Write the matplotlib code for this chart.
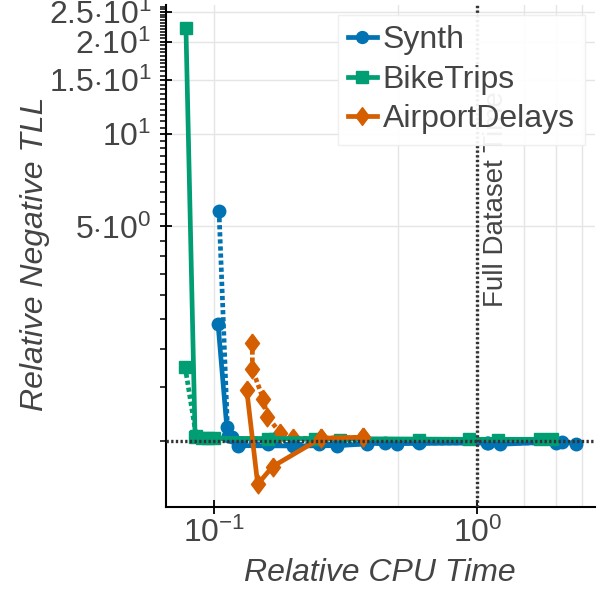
import matplotlib
matplotlib.use("Agg")
import matplotlib.pyplot as plt
from matplotlib.ticker import FixedLocator, NullFormatter

plt.rcParams['font.family'] = ['Liberation Sans', 'DejaVu Sans']
plt.rcParams['mathtext.fontset'] = 'custom'
plt.rcParams['mathtext.rm'] = 'Liberation Sans'
plt.rcParams['mathtext.it'] = 'Liberation Sans:italic'
plt.rcParams['mathtext.bf'] = 'Liberation Sans:bold'

# ---------------- data ----------------
series_names = ["Synth", "BikeTrips", "AirportDelays"]

synth_time_a = [0.1033, 0.1115, 0.1168, 0.1234, 0.1997, 0.292, 0.446, 0.494, 1.086, 1.22, 2.09, 2.37]
synth_tll_a = [2.405, 1.113, 1.03, 0.965, 0.963, 0.965, 0.985, 0.98, 0.985, 0.975, 0.995, 0.978]
synth_time_b = [0.1042, 0.1125, 0.125, 0.16, 0.25, 0.38, 0.6, 1.1, 2.0]
synth_tll_b = [5.616, 1.04, 0.985, 0.975, 0.975, 0.98, 0.985, 0.985, 0.985]

bike_time_a = [0.0780, 0.0845, 0.0894, 0.0948, 0.160, 0.241, 0.93, 1.73, 1.92]
bike_tll_a = [22.17, 1.03, 1.025, 1.02, 1.018, 1.018, 1.012, 1.012, 1.012]
bike_time_b = [0.0774, 0.0853, 0.100, 0.170, 0.300, 0.600, 1.20]
bike_tll_b = [1.746, 1.04, 1.02, 1.015, 1.01, 1.01, 1.01]

air_time_a = [0.1328, 0.1462, 0.1667, 0.2538, 0.3685]
air_tll_a = [1.466, 0.723, 0.825, 1.02, 1.028]
air_time_b = [0.1395, 0.1395, 0.1536, 0.159, 0.1778, 0.1987, 0.2538, 0.3685]
air_tll_b = [2.08, 1.713, 1.367, 1.20, 1.064, 1.02, 1.02, 1.028]

y_major = [5, 10, 15, 20, 25]
y_major_labels = [r"$5{\cdot}10^{0}$", r"$10^{1}$", r"$1.5{\cdot}10^{1}$",
                  r"$2{\cdot}10^{1}$", r"$2.5{\cdot}10^{1}$"]
y_minor = [1, 1.5, 2, 2.5, 3, 3.5, 4, 4.5, 5.5, 6, 6.5, 7, 7.5, 8, 8.5, 9, 9.5,
           10.5, 11, 11.5, 12, 12.5, 13, 13.5, 14, 14.5, 15.5, 16, 16.5, 17, 17.5,
           18, 18.5, 19, 19.5, 20.5, 21, 21.5, 22, 22.5, 23, 23.5, 24, 24.5, 25.5, 26]
x_major = [0.1, 1.0]
x_major_labels = [r"$10^{-1}$", r"$10^{0}$"]
x_minor_grid = [0.5, 1.5, 2.0, 2.5]

# ---------------- style ----------------
colors = {"Synth": "#0173B2", "BikeTrips": "#029E73", "AirportDelays": "#D55E00"}
diamond = [(0, 1), (0.75, 0), (0, -1), (-0.75, 0), (0, 1)]
text_color = "#444444"

fig = plt.figure(figsize=(6, 6), dpi=100)
ax = fig.add_axes([165.7 / 600, 93 / 600, (595 - 165.7) / 600, (507 - 5) / 600])
ax.set_xscale("log")
ax.set_yscale("log")
ax.set_xlim(0.06533, 2.802)
ax.set_ylim(0.609, 26.35)

lw = 3.4
dots = (0, (0.9, 0.6))
ms_c, ms_s, ms_d = 9, 8.5, 13.5

# dotted variants (no legend)
ax.plot(bike_time_b, bike_tll_b, color=colors["BikeTrips"], lw=lw, ls=dots,
        marker="s", ms=ms_s, zorder=3)
ax.plot(synth_time_b, synth_tll_b, color=colors["Synth"], lw=lw, ls=dots,
        marker="o", ms=ms_c, zorder=3)
ax.plot(air_time_b, air_tll_b, color=colors["AirportDelays"], lw=lw, ls=dots,
        marker=diamond, ms=ms_d, zorder=3)

# solid variants
h1, = ax.plot(synth_time_a, synth_tll_a, color=colors["Synth"], lw=lw,
              marker="o", ms=ms_c, zorder=4, label=series_names[0])
h2, = ax.plot(bike_time_a, bike_tll_a, color=colors["BikeTrips"], lw=lw,
              marker="s", ms=ms_s, zorder=4, label=series_names[1])
h3, = ax.plot(air_time_a, air_tll_a, color=colors["AirportDelays"], lw=lw,
              marker=diamond, ms=ms_d, zorder=4, label=series_names[2])

# reference lines
ref_ls = (0, (0.7, 0.7))
ax.axhline(1.0, color="#333333", lw=2.4, ls=ref_ls, zorder=6)
ax.axvline(1.0, color="#333333", lw=2.4, ls=ref_ls, zorder=6)
ax.text(1.051, 2.73, "Full Dataset Time", rotation=90, ha="left", va="bottom",
        fontsize=20, color=text_color, zorder=6)

# ticks
ax.yaxis.set_major_locator(FixedLocator(y_major))
ax.yaxis.set_ticklabels(y_major_labels)
ax.yaxis.set_minor_locator(FixedLocator(y_minor))
ax.yaxis.set_minor_formatter(NullFormatter())
ax.xaxis.set_major_locator(FixedLocator(x_major))
ax.xaxis.set_ticklabels(x_major_labels)
ax.xaxis.set_minor_locator(FixedLocator(x_minor_grid))
ax.xaxis.set_minor_formatter(NullFormatter())

ax.tick_params(axis="y", which="major", direction="inout", length=9, width=1.3,
               labelsize=23, labelcolor=text_color, pad=6)
ax.tick_params(axis="y", which="minor", direction="out", length=4, width=1.1)
ax.tick_params(axis="x", which="major", direction="inout", length=10, width=1.3,
               labelsize=23, labelcolor=text_color, pad=3)
ax.tick_params(axis="x", which="minor", length=0)

ax.grid(True, which="major", axis="both", color="#e5e5e5", lw=1.0, zorder=0)
ax.grid(True, which="minor", axis="x", color="#e5e5e5", lw=1.0, zorder=0)
ax.set_axisbelow(True)

for s in ["top", "right"]:
    ax.spines[s].set_visible(False)
for s in ["left", "bottom"]:
    ax.spines[s].set_linewidth(1.5)
    ax.spines[s].set_color("black")

leg = ax.legend(handles=[h1, h2, h3], loc="upper right",
                bbox_to_anchor=((585 - 165.7) / (595 - 165.7), (507 - 15) / 502),
                fontsize=23, frameon=True, fancybox=False, framealpha=0.93,
                edgecolor="#eeeeee", handlelength=0.9, handletextpad=0.19,
                labelspacing=0.3, borderpad=0.32, borderaxespad=0.0,
                markerscale=0.95)
for t in leg.get_texts():
    t.set_color(text_color)
leg.set_zorder(10)

fig.text(380 / 600, 1 - 573 / 600, "Relative CPU Time", fontsize=23,
         style="italic", color=text_color, ha="center", va="center")
fig.text(35 / 600, 1 - 253.5 / 600, "Relative Negative TLL", fontsize=23,
         style="italic", color=text_color, ha="center", va="center", rotation=90)

fig.savefig("out.png", dpi=100, facecolor="white")
